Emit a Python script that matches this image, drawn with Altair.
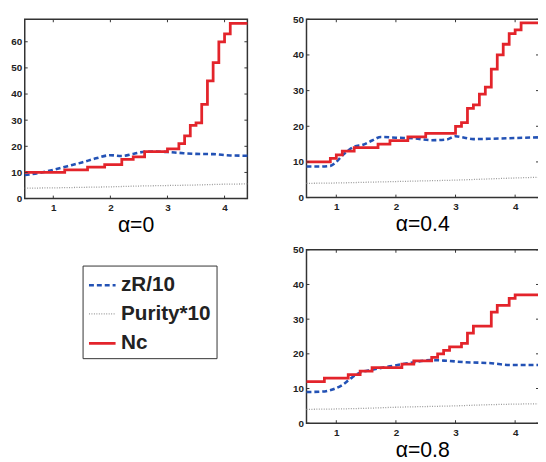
import altair as alt
import pandas as pd

series = ["zR/10", "Purity*10", "Nc"]
colors = ["#2352b5", "#9a9a9a", "#e3242b"]
titles = ["α=0", "α=0.4", "α=0.8"]
x_ticks = [1, 2, 3, 4]
y_max = [68.6, 50, 50]
y_ticks = [[0, 10, 20, 30, 40, 50, 60], [0, 10, 20, 30, 40, 50], [0, 10, 20, 30, 40, 50]]

# zR/10 (dashed blue)
zr_x = [
    [0.5, 0.75, 1.0, 1.25, 1.5, 1.75, 2.0, 2.2, 2.4, 2.6, 2.8, 3.0, 3.2, 3.5, 3.8, 4.1, 4.4],
    [0.5, 0.7, 0.9, 1.0, 1.1, 1.2, 1.3, 1.45, 1.6, 1.75, 2.0, 2.3, 2.6, 2.85, 3.0, 3.15, 3.3, 3.6, 4.0, 4.4],
    [0.5, 0.75, 0.95, 1.1, 1.25, 1.4, 1.6, 1.9, 2.25, 2.6, 2.85, 3.15, 3.6, 3.9, 4.4],
]
zr_y = [
    [9.0, 9.8, 11.0, 12.4, 13.8, 15.4, 16.6, 16.3, 17.1, 17.9, 18.0, 17.8, 17.5, 17.1, 17.0, 16.5, 16.4],
    [8.7, 8.7, 8.9, 10.0, 11.8, 13.2, 14.3, 14.8, 16.0, 17.0, 16.8, 16.6, 16.1, 16.3, 17.2, 16.8, 16.4, 16.5, 16.7, 16.9],
    [9.0, 9.1, 9.8, 11.0, 13.0, 14.6, 15.4, 16.4, 17.4, 18.2, 18.0, 17.6, 17.3, 16.8, 16.8],
]

# Purity*10 (dotted grey)
pur_x = [0.5, 1.0, 1.5, 2.0, 2.5, 3.0, 3.5, 4.0, 4.4]
pur_y = [
    [4.0, 4.1, 4.3, 4.5, 4.8, 5.0, 5.2, 5.5, 5.6],
    [4.0, 4.1, 4.3, 4.5, 4.7, 4.9, 5.2, 5.5, 5.7],
    [4.0, 4.1, 4.3, 4.6, 4.8, 5.0, 5.3, 5.5, 5.6],
]

# Nc (red stairs, value holds until next x)
nc_x = [
    [0.5, 1.2, 1.6, 1.9, 2.2, 2.4, 2.6, 3.0, 3.2, 3.3, 3.4, 3.5, 3.6, 3.7, 3.8, 3.9, 4.0, 4.1, 4.4],
    [0.5, 0.9, 1.0, 1.1, 1.3, 1.7, 1.9, 2.2, 2.5, 3.0, 3.1, 3.2, 3.3, 3.4, 3.5, 3.6, 3.7, 3.8, 3.9, 4.0, 4.1, 4.4],
    [0.5, 0.8, 1.2, 1.4, 1.6, 2.1, 2.3, 2.6, 2.7, 2.8, 2.9, 3.1, 3.2, 3.3, 3.6, 3.7, 3.9, 4.0, 4.4],
]
nc_y = [
    [10, 11, 12, 13, 15, 16, 18, 19, 21, 24, 28, 29, 36, 45, 52, 60, 63, 67, 67],
    [10, 11, 12, 13, 14, 15, 16, 17, 18, 20, 21, 25, 26, 29, 31, 36, 40, 43, 46, 47, 49, 49],
    [12, 13, 14, 15, 16, 17, 18, 19, 20, 21, 22, 23, 26, 28, 32, 34, 36, 37, 37],
]

sizes = [(226, 182), (236, 181), (236, 176)]


def panel(i):
    w, h = sizes[i]
    xs = alt.X("x:Q", scale=alt.Scale(domain=[0.5, 4.4], nice=False, zero=False),
               axis=alt.Axis(values=x_ticks, format="d", title=None, labelPadding=4, labelOverlap=False))
    ys = alt.Y("y:Q", scale=alt.Scale(domain=[0, y_max[i]], nice=False),
               axis=alt.Axis(values=y_ticks[i], format="d", title=None, labelPadding=3, labelOverlap=False))
    color = alt.Color("s:N", scale=alt.Scale(domain=series, range=colors), title=None)
    dash = alt.StrokeDash("s:N", scale=alt.Scale(domain=series, range=[[5, 3], [1, 1.5], [1, 0]]), title=None)
    sw = alt.StrokeWidth("s:N", scale=alt.Scale(type="ordinal", domain=series, range=[2.6, 1.3, 2.8]), title=None)

    d_zr = pd.DataFrame({"x": zr_x[i], "y": zr_y[i], "s": "zR/10"})
    d_pu = pd.DataFrame({"x": pur_x, "y": pur_y[i], "s": "Purity*10"})
    d_nc = pd.DataFrame({"x": nc_x[i], "y": nc_y[i], "s": "Nc"})

    l_zr = alt.Chart(d_zr).mark_line(interpolate="monotone").encode(x=xs, y=ys, color=color, strokeDash=dash, strokeWidth=sw)
    l_pu = alt.Chart(d_pu).mark_line(interpolate="monotone").encode(x=xs, y=ys, color=color, strokeDash=dash, strokeWidth=sw)
    l_nc = alt.Chart(d_nc).mark_line(interpolate="step-after").encode(x=xs, y=ys, color=color, strokeDash=dash, strokeWidth=sw)

    dxt = pd.DataFrame({"x": x_ticks})
    dyt = pd.DataFrame({"y": y_ticks[i]})
    tk = dict(color="#333333", strokeWidth=1)
    t_b = alt.Chart(dxt).mark_rule(**tk).encode(x=xs, y=alt.value(h), y2=alt.value(h - 3))
    t_t = alt.Chart(dxt).mark_rule(**tk).encode(x=xs, y=alt.value(0), y2=alt.value(3))
    t_l = alt.Chart(dyt).mark_rule(**tk).encode(y=ys, x=alt.value(0), x2=alt.value(3))
    t_r = alt.Chart(dyt).mark_rule(**tk).encode(y=ys, x=alt.value(w), x2=alt.value(w - 3))

    return alt.layer(l_zr, l_pu, l_nc, t_b, t_t, t_l, t_r).properties(
        width=w, height=h,
        title=alt.TitleParams(titles[i], orient="bottom", anchor="middle", fontSize=21.5,
                              font="Liberation Sans", fontWeight="normal", color="#000000", offset=3),
    )


chart = alt.hconcat(
    panel(0),
    alt.vconcat(panel(1), panel(2), spacing=53, bounds="flush"),
    spacing=60, bounds="flush",
).properties(
    padding={"left": 2, "top": 2, "right": -8, "bottom": 0}
).configure_view(
    stroke="#333333", strokeWidth=1.5
).configure_axis(
    domain=False, ticks=False, grid=False,
    labelFont="Liberation Sans", labelFontWeight="bold", labelFontSize=10, labelColor="#222222",
).configure_legend(
    orient="none", legendX=58.7, legendY=250,
    strokeColor="#333333", padding=5, fillColor="white",
    symbolType="stroke", symbolSize=729, labelOffset=4,
    labelFont="Liberation Sans", labelFontWeight="bold", labelFontSize=21, labelColor="#222222",
    rowPadding=4.5,
)

chart.save("out.html", embed_options={"renderer": "svg", "actions": False})
